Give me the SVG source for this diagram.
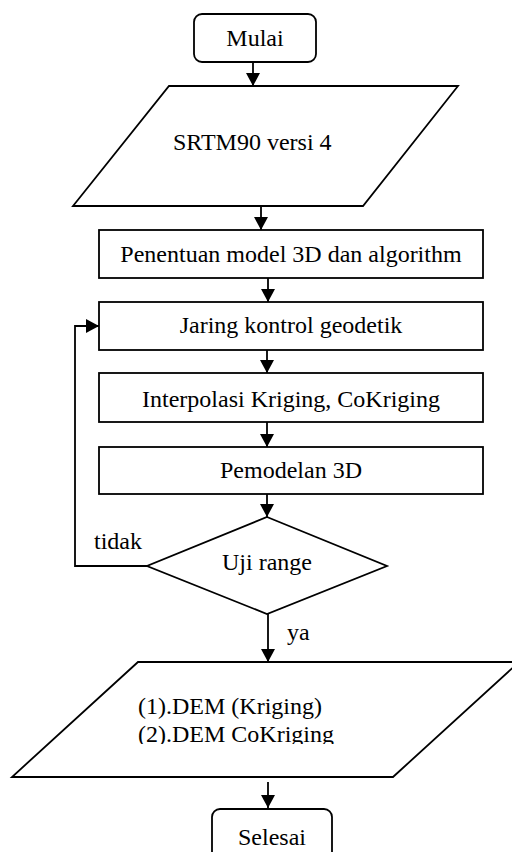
<svg xmlns="http://www.w3.org/2000/svg" width="512" height="852" viewBox="0 0 512 852">
  <style>
    .shape { fill: #ffffff; stroke: #000000; stroke-width: 1.8; }
    .label { font-family: "Liberation Serif", "Times New Roman", serif; font-size: 24px; fill: #000000; }
    .mid { text-anchor: middle; }
    .wire { fill: none; stroke: #000000; stroke-width: 1.8; marker-end: url(#arrow); }
  </style>
  <defs>
    <marker id="arrow" viewBox="0 0 13 14" refX="13" refY="7" markerWidth="13" markerHeight="14" markerUnits="userSpaceOnUse" orient="auto">
      <path d="M0,0 L13,7 L0,14 Z" fill="#000000"/>
    </marker>
    <clipPath id="outClip">
      <rect x="0" y="662" width="512" height="82"/>
    </clipPath>
  </defs>
  <rect width="512" height="852" fill="#ffffff"/>

  <g id="connectors">
    <path class="wire" d="M253,62 V86"/>
    <path class="wire" d="M261,206 V230"/>
    <path class="wire" d="M268,278 V302"/>
    <path class="wire" d="M267,350 V373"/>
    <path class="wire" d="M267,422 V447"/>
    <path class="wire" d="M267,494 V517"/>
    <path class="wire" d="M268,614 V662"/>
    <path class="wire" d="M147,566 H75 V326 H99"/>
    <path class="wire" d="M268,782 V808"/>
    <text class="label" x="94" y="549">tidak</text>
    <text class="label" x="287" y="640">ya</text>
  </g>

  <g id="start">
    <rect class="shape" x="194" y="14" width="122" height="48" rx="8"/>
    <text class="label mid" x="255" y="46">Mulai</text>
  </g>

  <g id="input">
    <polygon class="shape" points="169,86 458,86 363,206 73,206"/>
    <text class="label" x="173" y="150">SRTM90 versi 4</text>
  </g>

  <g id="model">
    <rect class="shape" x="99" y="230" width="384" height="48"/>
    <text class="label mid" x="291" y="262">Penentuan model 3D dan algorithm</text>
  </g>

  <g id="network">
    <rect class="shape" x="99" y="302" width="384" height="48"/>
    <text class="label mid" x="291" y="333">Jaring kontrol geodetik</text>
  </g>

  <g id="interpolation">
    <rect class="shape" x="99" y="373" width="384" height="49"/>
    <text class="label mid" x="291" y="407">Interpolasi Kriging, CoKriging</text>
  </g>

  <g id="modelling">
    <rect class="shape" x="99" y="447" width="384" height="47"/>
    <text class="label mid" x="291" y="478">Pemodelan 3D</text>
  </g>

  <g id="decision">
    <polygon class="shape" points="267,517 387,566 267,614 147,566"/>
    <text class="label mid" x="267" y="570">Uji range</text>
  </g>

  <g id="output">
    <polygon class="shape" points="138,662 519,662 393,777 12,777"/>
    <g clip-path="url(#outClip)">
      <text class="label" x="138" y="714">(1).DEM (Kriging)</text>
      <text class="label" x="138" y="742">(2).DEM CoKriging</text>
    </g>
  </g>

  <g id="end">
    <rect class="shape" x="212" y="809" width="120" height="60" rx="8"/>
    <text class="label mid" x="272" y="845">Selesai</text>
  </g>
</svg>
